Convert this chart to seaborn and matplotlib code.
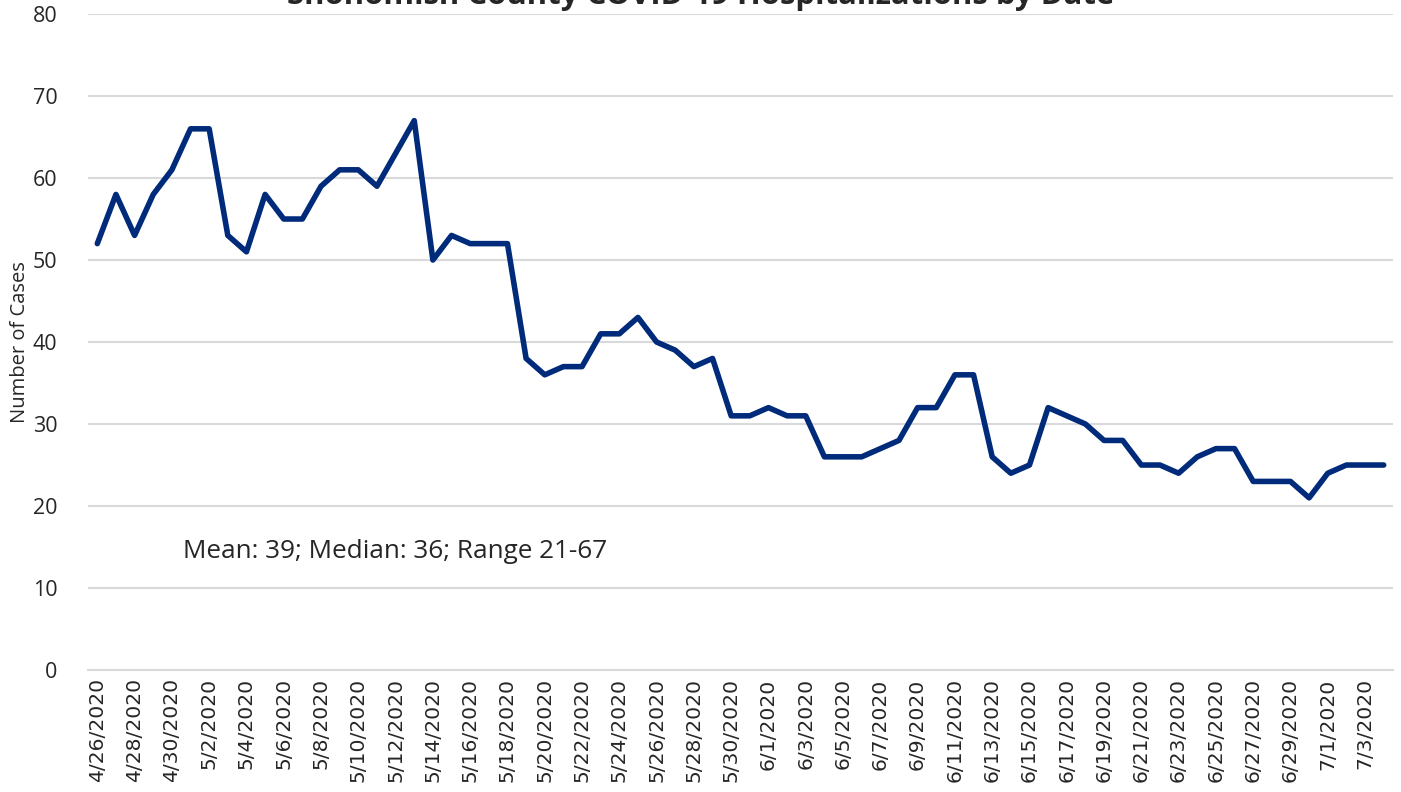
import pandas as pd
import seaborn as sns
import matplotlib.pyplot as plt

# daily hospitalizations, 4/26/2020 - 7/4/2020
dates = pd.date_range("2020-04-26", "2020-07-04", freq="D")
cases = [52, 58, 53, 58, 61, 66, 66, 53, 51, 58,
         55, 55, 59, 61, 61, 59, 63, 67, 50, 53,
         52, 52, 52, 38, 36, 37, 37, 41, 41, 43,
         40, 39, 37, 38, 31, 31, 32, 31, 31, 26,
         26, 26, 27, 28, 32, 32, 36, 36, 26, 24,
         25, 32, 31, 30, 28, 28, 25, 25, 24, 26,
         27, 27, 23, 23, 23, 21, 24, 25, 25, 25]
labels = [f"{d.month}/{d.day}/{d.year}" for d in dates]

title = "Snohomish County COVID-19 Hospitalizations by Date"
note = "Mean: 39; Median: 36; Range 21-67"

df = pd.DataFrame({"day": range(len(cases)), "cases": cases})

sns.set_style("white")
plt.rcParams["font.family"] = ["Open Sans", "DejaVu Sans"]

fig = plt.figure(figsize=(14.01, 7.92), dpi=100)
ax = fig.add_axes([0.0628, 0.154, 0.9315, 0.8283])

sns.lineplot(data=df, x="day", y="cases", ax=ax, color="#002a7a",
             linewidth=4.0, solid_joinstyle="round", solid_capstyle="round")

ax.set_ylim(0, 80)
ax.set_yticks(range(0, 81, 10))
ax.set_xlim(-0.5, len(cases) - 0.5)
ax.set_xticks(range(0, len(cases), 2))
ax.set_xticklabels(labels[::2], rotation=90, fontsize=14.6, family="DejaVu Sans")
ax.set_xticks([i - 0.5 for i in range(0, len(cases) + 1, 2)], minor=True)
ax.tick_params(axis="x", which="major", length=0, pad=6)
ax.tick_params(axis="x", which="minor", length=7, color="#d9d9d9", width=1.3)
ax.tick_params(axis="y", length=0, labelsize=15.5, pad=22)

ax.grid(axis="y", color="#d9d9d9", linewidth=1.5)
ax.set_axisbelow(True)
for s in ["top", "right", "left"]:
    ax.spines[s].set_visible(False)
ax.spines["bottom"].set_color("#d9d9d9")
ax.spines["bottom"].set_linewidth(1.5)

ax.set_xlabel("")
ax.set_ylabel("Number of Cases", fontsize=14.5, labelpad=2)

ax.text(0.0728, 14.4, note, transform=ax.get_yaxis_transform(), fontsize=18.8,
        va="center", ha="left")
fig.text(0.5, 0.995, title, ha="center", va="baseline", fontsize=22.4,
         fontweight="bold")

fig.savefig("out.png", dpi=100)
